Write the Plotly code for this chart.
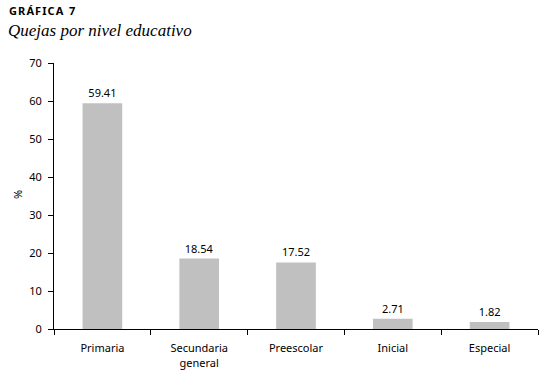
import plotly.graph_objects as go

categories = ["Primaria", "Secundaria<br>general", "Preescolar", "Inicial", "Especial"]
values = [59.41, 18.54, 17.52, 2.71, 1.82]
value_labels = ["59.41", "18.54", "17.52", "2.71", "1.82"]
y_ticks = [0, 10, 20, 30, 40, 50, 60, 70]

font_family = "Noto Sans, Open Sans, DejaVu Sans, sans-serif"

W, H = 543, 375
ML, MR, MT, MB = 54, 5, 63, 46
PW, PH = W - ML - MR, H - MT - MB


def px_x(x):
    return (x - ML) / PW


def px_y(y_from_top):
    return (H - y_from_top - MB) / PH


title_small = "\u200a".join("GRÁFICA") + "\u2002" + "7"

fig = go.Figure()
fig.add_trace(go.Bar(
    x=categories,
    y=values,
    text=value_labels,
    textposition="outside",
    textfont=dict(size=11, color="#000000", family=font_family),
    marker=dict(color="#c0c0c0", line=dict(width=0)),
    width=0.41,
    cliponaxis=False,
    hoverinfo="skip",
))

fig.update_layout(
    width=W,
    height=H,
    margin=dict(l=ML, r=MR, t=MT, b=MB, autoexpand=False),
    paper_bgcolor="white",
    plot_bgcolor="white",
    showlegend=False,
    font=dict(family=font_family, size=11, color="#000000"),
    annotations=[
        dict(text="<b>" + title_small + "</b>", x=px_x(7), y=px_y(1), xref="paper", yref="paper",
             showarrow=False, xanchor="left", yanchor="top",
             font=dict(size=11, family=font_family, color="#000000")),
        dict(text="<i>Quejas por nivel educativo</i>", x=px_x(6), y=px_y(19), xref="paper", yref="paper",
             showarrow=False, xanchor="left", yanchor="top",
             font=dict(size=17, family="Liberation Serif, DejaVu Serif, serif", color="#000000")),
        dict(text="%", x=px_x(17), y=px_y(195), xref="paper", yref="paper",
             showarrow=False, xanchor="center", yanchor="middle", textangle=-90,
             font=dict(size=11, family=font_family, color="#000000")),
    ],
)

fig.update_xaxes(
    showline=True, linecolor="#000000", linewidth=1,
    ticks="outside", tickson="boundaries", ticklen=5, tickcolor="#000000",
    showgrid=False, zeroline=False, automargin=False,
    ticklabelstandoff=9,
    tickfont=dict(size=11, family=font_family),
)
fig.update_yaxes(
    range=[0, 70], tickvals=y_ticks, ticktext=[str(v) for v in y_ticks],
    showline=True, linecolor="#000000", linewidth=1,
    ticks="outside", ticklen=5, tickcolor="#000000",
    showgrid=False, zeroline=False, automargin=False,
    ticklabelstandoff=4,
    tickfont=dict(size=11, family=font_family),
)

fig.write_html("out.html", config={"displayModeBar": False},
               post_script="document.body.style.margin='0';")
